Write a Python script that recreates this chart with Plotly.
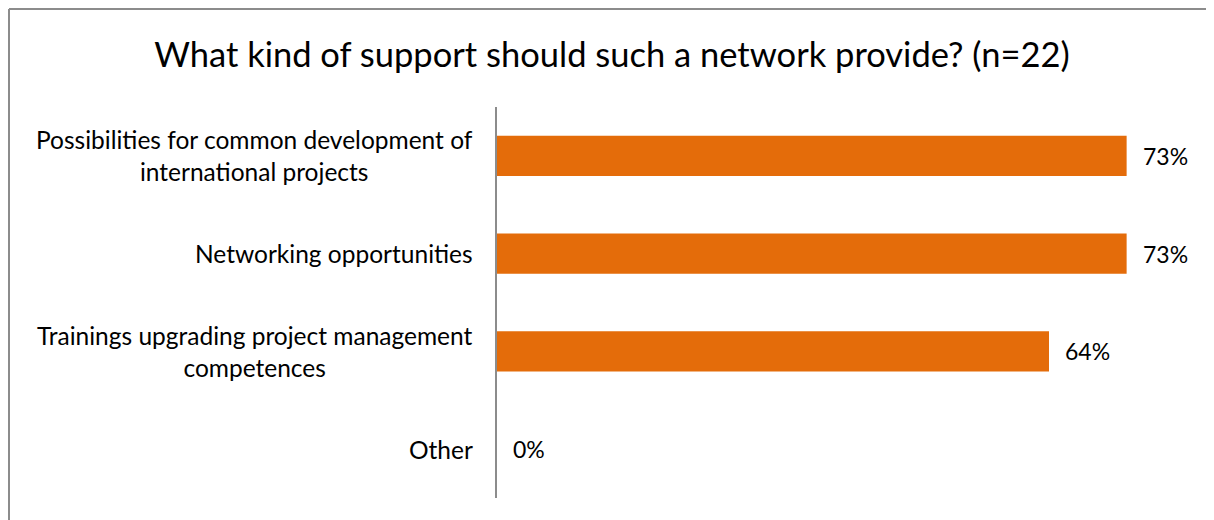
import plotly.graph_objects as go

categories = [
    "Possibilities for common development of<br>international projects",
    "Networking opportunities",
    "Trainings upgrading project management<br>competences",
    "Other",
]
values = [73, 73, 64, 0]
value_labels = ["73%", "73%", "64%", "0%"]
title_text = "What kind of support should such a network provide? (n=22)"

FONT = "Lato, 'Open Sans', sans-serif"
BAR_COLOR = "#E46C0A"
LINE_COLOR = "#8C8C8C"

# page body has an 8px margin, so the figure is drawn 8px in from the window edge
W, H = 1206, 512
ML, MR, MT, MB = 489, 27, 99, 22
pw, ph = W - ML - MR, H - MT - MB

fig = go.Figure(
    go.Bar(
        x=values,
        y=categories,
        orientation="h",
        marker=dict(color=BAR_COLOR, line=dict(width=0)),
        hoverinfo="skip",
    )
)

annotations = []
for c in categories:
    annotations.append(dict(
        x=0, xref="paper", y=c, yref="y", text=c, showarrow=False,
        xanchor="right", yanchor="middle", align="center", xshift=-22,
        font=dict(family=FONT, size=24.5, color="#000000"),
    ))
for c, v, t in zip(categories, values, value_labels):
    annotations.append(dict(
        x=v, xref="x", y=c, yref="y", text=t, showarrow=False,
        xanchor="left", yanchor="middle", xshift=14,
        font=dict(family=FONT, size=23, color="#000000"),
    ))

def px_x(p):
    return (p - ML) / pw

def px_y(p):
    return (H - MB - p) / ph

shapes = [
    dict(type="line", xref="paper", yref="paper",
         x0=px_x(1), x1=px_x(1230), y0=px_y(1), y1=px_y(1),
         line=dict(color=LINE_COLOR, width=2)),
    dict(type="line", xref="paper", yref="paper",
         x0=px_x(1), x1=px_x(1), y0=px_y(1), y1=px_y(540),
         line=dict(color=LINE_COLOR, width=2)),
]

fig.update_layout(
    width=W, height=H,
    margin=dict(l=ML, r=MR, t=MT, b=MB, pad=0),
    paper_bgcolor="white", plot_bgcolor="white",
    title=dict(text=title_text, x=604 / W, xref="container", xanchor="center",
               y=1 - 47 / H, yref="container", yanchor="middle",
               font=dict(family=FONT, size=34.5, color="#000000")),
    showlegend=False,
    bargap=0.59,
    annotations=annotations,
    shapes=shapes,
    xaxis=dict(range=[0, 80], visible=False, fixedrange=True),
    yaxis=dict(categoryorder="array", categoryarray=categories,
               autorange="reversed", showticklabels=False, ticks="",
               showgrid=False, zeroline=False, showline=True,
               linecolor=LINE_COLOR, linewidth=1.5, fixedrange=True),
)

fig.write_html("out.html", config={"displayModeBar": False})
